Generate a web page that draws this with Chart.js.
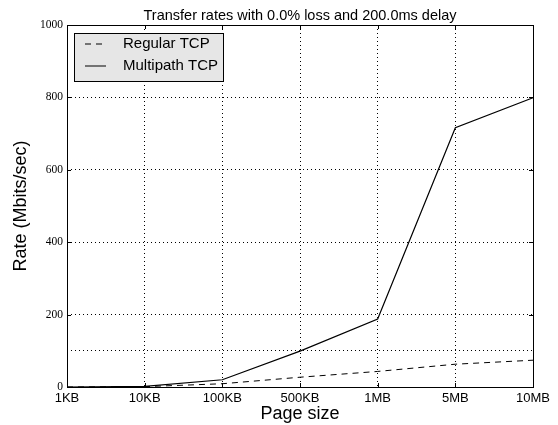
<!DOCTYPE html>
<html>
<head>
  <title>Transfer rates</title>
  <script src="https://cdn.jsdelivr.net/npm/chart.js"></script>
  <style>
    body { margin: 0; background: #fff; }
    .chart { width: 558px; height: 425px; }
  </style>
</head>
<body>
  <div class="chart">
    <canvas id="myChart"></canvas>
  </div>
  <script>
    const pageSizes = ['1KB', '10KB', '100KB', '500KB', '1MB', '5MB', '10MB'];
    const regularTcp = [0, 1, 9, 27, 43, 63, 74];
    const multipathTcp = [0, 2, 20, 99, 188, 716, 799];
    const yLabelTicks = [0, 200, 400, 600, 800, 1000];
    const yGridLines = [100, 200, 400, 600, 800];

    const sans = '"Liberation Sans", Arial, sans-serif';
    const serif = '"Liberation Serif", "DejaVu Serif", serif';

    // frame, inward ticks, title and legend, matplotlib style
    const decor = {
      id: 'decor',
      afterDatasetsDraw(chart) {
        const { ctx, chartArea: a, scales } = chart;
        ctx.save();
        ctx.strokeStyle = '#000';
        ctx.lineWidth = 1;
        ctx.setLineDash([]);
        ctx.beginPath();
        pageSizes.forEach((_, i) => {
          const x = Math.round(scales.x.getPixelForValue(i)) + 0.5;
          ctx.moveTo(x, a.bottom); ctx.lineTo(x, a.bottom - 4);
          ctx.moveTo(x, a.top); ctx.lineTo(x, a.top + 4);
        });
        yLabelTicks.forEach(v => {
          const y = Math.round(scales.y.getPixelForValue(v)) + 0.5;
          ctx.moveTo(a.left, y); ctx.lineTo(a.left + 4, y);
          ctx.moveTo(a.right, y); ctx.lineTo(a.right - 4, y);
        });
        ctx.stroke();
        ctx.strokeRect(Math.round(a.left) + 0.5, Math.round(a.top) + 0.5,
          Math.round(a.right - a.left), Math.round(a.bottom - a.top));

        // title
        ctx.fillStyle = '#000';
        ctx.font = '14.5px ' + sans;
        ctx.textAlign = 'center';
        ctx.textBaseline = 'bottom';
        ctx.fillText('Transfer rates with 0.0% loss and 200.0ms delay', (a.left + a.right) / 2, a.top - 2);

        // legend
        const lx = a.left + 7, ly = a.top + 8, lw = 149, lh = 48;
        ctx.fillStyle = '#e6e6e6';
        ctx.fillRect(lx, ly, lw, lh);
        ctx.strokeRect(lx + 0.5, ly + 0.5, lw, lh);
        ctx.font = '15px ' + sans;
        ctx.textAlign = 'left';
        ctx.textBaseline = 'middle';
        chart.data.datasets.forEach((ds, i) => {
          const y = ly + 11 + i * 22;
          ctx.beginPath();
          ctx.setLineDash(ds.borderDash || []);
          ctx.moveTo(lx + 11, y); ctx.lineTo(lx + 32, y);
          ctx.stroke();
          ctx.setLineDash([]);
          ctx.fillStyle = '#000';
          ctx.fillText(ds.label, lx + 49, y);
        });
        ctx.restore();
      }
    };

    const ctx = document.getElementById('myChart').getContext('2d');
    const chart = new Chart(ctx, {
      type: 'line',
      data: {
        labels: pageSizes,
        datasets: [{
          label: 'Regular TCP',
          data: regularTcp,
          borderColor: '#000',
          borderWidth: 1,
          borderDash: [6, 5],
          pointRadius: 0,
          tension: 0
        }, {
          label: 'Multipath TCP',
          data: multipathTcp,
          borderColor: '#000',
          borderWidth: 1.2,
          pointRadius: 0,
          tension: 0
        }]
      },
      options: {
        responsive: true,
        maintainAspectRatio: false,
        animation: false,
        layout: { padding: { top: 25, right: 25, left: 0, bottom: 0 } },
        plugins: {
          legend: { display: false },
          tooltip: { enabled: false }
        },
        scales: {
          x: {
            offset: false,
            border: { display: false, dash: [1, 3] },
            grid: { color: '#000', lineWidth: 1, drawTicks: false },
            ticks: { color: '#000', font: { family: sans, size: 13 }, padding: 4, maxRotation: 0 },
            title: { display: true, text: 'Page size', color: '#000', font: { family: sans, size: 18 }, padding: 0 },
            afterFit(s) { s.height = 38; }
          },
          y: {
            min: 0,
            max: 1000,
            border: { display: false, dash: [1, 3] },
            grid: {
              color: c => yGridLines.includes(c.tick.value) ? '#000' : 'rgba(0,0,0,0)',
              lineWidth: 1,
              drawTicks: false
            },
            ticks: {
              stepSize: 100,
              color: '#000',
              font: { family: serif, size: 11.5 },
              padding: 4,
              callback: v => yLabelTicks.includes(v) ? v : ''
            },
            title: { display: true, text: 'Rate (Mbits/sec)', color: '#000', font: { family: sans, size: 18 }, padding: 10 },
            afterFit(s) { s.width = 67; }
          }
        }
      },
      plugins: [decor]
    });
  </script>
</body>
</html>
